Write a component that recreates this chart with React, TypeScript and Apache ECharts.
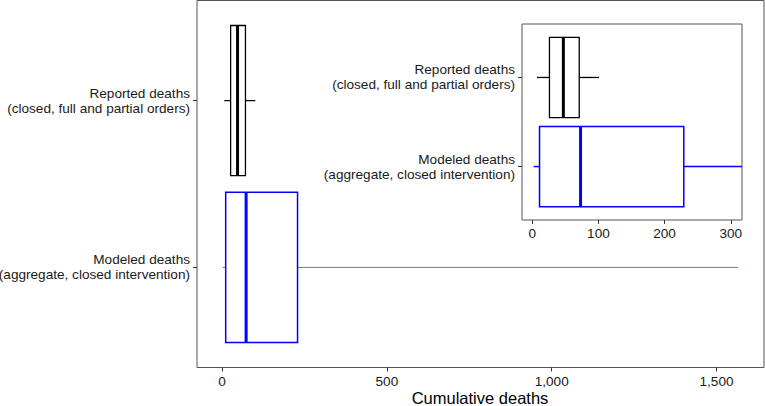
import React, { useEffect, useRef } from "react";
import * as echarts from "echarts";

const categories = [
  "Reported deaths\n(closed, full and partial orders)",
  "Modeled deaths\n(aggregate, closed intervention)",
];
// [whisker low, Q1, median, Q3, whisker high]
const reportedStats = [7, 26, 47, 71, 101];
const modeledStats = [2, 11, 73, 229, 1566];
const mainTicks = [0, 500, 1000, 1500];
const insetTicks = [0, 100, 200, 300];
const xTitle = "Cumulative deaths";

const FONT = "Liberation Sans, Arial, Helvetica, sans-serif";

function boxRender(style: { color: string; lw: number; medLw: number; whiskerColor: string; whiskerLw: number }) {
  return (params: any, api: any) => {
    const y = api.value(0);
    const lo = api.coord([api.value(1), y]);
    const q1 = api.coord([api.value(2), y]);
    const md = api.coord([api.value(3), y]);
    const q3 = api.coord([api.value(4), y]);
    const hi = api.coord([api.value(5), y]);
    const h = Math.abs(api.size([0, 0.9])[1]) / 2;
    const cy = q1[1];
    const ws = { stroke: style.whiskerColor, lineWidth: style.whiskerLw, fill: null };
    return {
      type: "group",
      children: [
        { type: "line", shape: { x1: lo[0], y1: cy, x2: q1[0], y2: cy }, style: ws },
        { type: "line", shape: { x1: q3[0], y1: cy, x2: hi[0], y2: cy }, style: ws },
        {
          type: "rect",
          shape: { x: q1[0], y: cy - h, width: q3[0] - q1[0], height: 2 * h },
          style: { stroke: style.color, lineWidth: style.lw, fill: "#fff" },
        },
        {
          type: "line",
          shape: { x1: md[0], y1: cy - h, x2: md[0], y2: cy + h },
          style: { stroke: style.color, lineWidth: style.medLw },
        },
      ],
    };
  };
}

function yAxisFor(gridIndex: number) {
  return {
    type: "value",
    gridIndex,
    min: -0.6,
    max: 1.6,
    inverse: true,
    axisLine: { show: false, onZero: false },
    splitLine: { show: false },
    axisTick: { show: true, length: 4, customValues: [0, 1], lineStyle: { color: "#333" } },
    axisLabel: {
      show: true,
      customValues: [0, 1],
      formatter: (v: number) => categories[Math.round(v)] ?? "",
      color: "#1a1a1a",
      fontFamily: FONT,
      fontSize: 13.6,
      lineHeight: 15,
      align: "right",
      margin: 7,
    },
  };
}

export default function App() {
  const ref = useRef<HTMLDivElement>(null);
  useEffect(() => {
    if (!ref.current) return;
    const chart = echarts.init(ref.current, null, { renderer: "svg" });
    const mainStyleRep = { color: "#000", lw: 1.3, medLw: 3, whiskerColor: "#000", whiskerLw: 1.3 };
    const mainStyleMod = { color: "#0000ff", lw: 1.5, medLw: 3, whiskerColor: "#6b6bff", whiskerLw: 1 };
    const insetStyleRep = { color: "#000", lw: 1.3, medLw: 3, whiskerColor: "#000", whiskerLw: 1.3 };
    const insetStyleMod = { color: "#0000ff", lw: 1.5, medLw: 3, whiskerColor: "#0000ff", whiskerLw: 1.5 };
    chart.setOption({
      animation: false,
      backgroundColor: "#fff",
      grid: [
        { left: 197, top: 0.5, width: 567, height: 367, show: true, borderColor: "#555", borderWidth: 1, backgroundColor: "#fff", containLabel: false, outerBoundsMode: "none" },
        { left: 522, top: 24, width: 220, height: 196, show: true, borderColor: "#555", borderWidth: 1, backgroundColor: "#fff", containLabel: false, outerBoundsMode: "none" },
      ],
      graphic: [
        {
          type: "text",
          x: 480,
          y: 397.5,
          style: {
            text: xTitle,
            fill: "#000",
            font: `16.5px ${FONT}`,
            textAlign: "center",
            textVerticalAlign: "middle",
          },
        },
      ],
      xAxis: [
        {
          type: "value",
          gridIndex: 0,
          min: -76,
          max: 1644,
          axisLine: { show: false, onZero: false },
          splitLine: { show: false },
          axisTick: { show: true, length: 4, customValues: mainTicks, lineStyle: { color: "#333" } },
          axisLabel: {
            customValues: mainTicks,
            formatter: (v: number) => v.toLocaleString("en-US"),
            color: "#1a1a1a",
            fontFamily: FONT,
            fontSize: 13.6,
            margin: 7,
          },
        },
        {
          type: "value",
          gridIndex: 1,
          min: -15.5,
          max: 317,
          axisLine: { show: false, onZero: false },
          splitLine: { show: false },
          axisTick: { show: true, length: 4, customValues: insetTicks, lineStyle: { color: "#333" } },
          axisLabel: {
            customValues: insetTicks,
            color: "#1a1a1a",
            fontFamily: FONT,
            fontSize: 13.6,
            margin: 6,
          },
        },
      ],
      yAxis: [yAxisFor(0), yAxisFor(1)],
      series: [
        { type: "custom", xAxisIndex: 0, yAxisIndex: 0, clip: true, renderItem: boxRender(mainStyleRep), data: [[0, ...reportedStats]] },
        { type: "custom", xAxisIndex: 0, yAxisIndex: 0, clip: true, renderItem: boxRender(mainStyleMod), data: [[1, ...modeledStats]] },
        { type: "custom", xAxisIndex: 1, yAxisIndex: 1, clip: true, renderItem: boxRender(insetStyleRep), data: [[0, ...reportedStats]] },
        { type: "custom", xAxisIndex: 1, yAxisIndex: 1, clip: true, renderItem: boxRender(insetStyleMod), data: [[1, ...modeledStats]] },
      ],
    });
    return () => chart.dispose();
  }, []);
  return <div ref={ref} style={{ position: "fixed", left: 0, top: 0, width: 765, height: 406 }} />;
}
